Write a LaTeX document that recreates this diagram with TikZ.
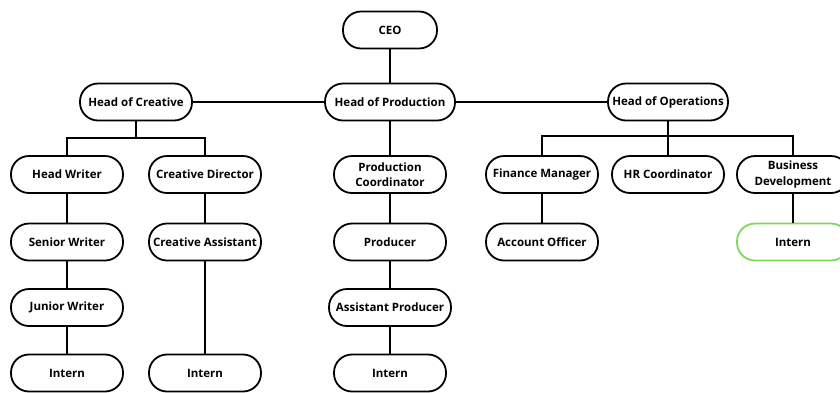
\documentclass[tikz,border=0pt]{standalone}
\usepackage{fontspec}
\setmainfont{Open Sans}
\usepackage{tikz}
\definecolor{G}{RGB}{126, 217, 87}

\begin{document}
\begin{tikzpicture}[x=1pt, y=-1pt,
  box/.style={draw=black, line width=1.8pt, rounded corners=18pt, minimum width=112pt,
    minimum height=37pt, align=center, inner sep=2pt,
    font=\fontsize{11.5}{15.5}\selectfont\bfseries},
  link/.style={black, line width=1.8pt}]
  \useasboundingbox (0,0) rectangle (840,392);
  % top levels
  \node[box, minimum width=94pt] (ceo) at (390,30) {CEO};
  \node[box] (hcre) at (136,102) {Head of Creative};
  \node[box, minimum width=130pt] (hpro) at (390,102) {Head of Production};
  \node[box, minimum width=120pt] (hops) at (668,102) {Head of Operations};
  % creative
  \node[box] (hw) at (67,174.5) {Head Writer};
  \node[box] (sw) at (67,242) {Senior Writer};
  \node[box] (jw) at (67,307.5) {Junior Writer};
  \node[box] (int1) at (67,373) {Intern};
  \node[box] (cd) at (205,174.5) {Creative Director};
  \node[box] (ca) at (205,242) {Creative Assistant};
  \node[box] (int2) at (205,373) {Intern};
  % production
  \node[box] (pc) at (390,174.5) {Production\\Coordinator};
  \node[box] (prod) at (390,242) {Producer};
  \node[box, minimum width=122pt] (ap) at (390,307.5) {Assistant Producer};
  \node[box] (int3) at (390,373) {Intern};
  % operations
  \node[box] (fm) at (542,174.5) {Finance Manager};
  \node[box] (ao) at (542,242) {Account Officer};
  \node[box] (hr) at (668,174.5) {HR Coordinator};
  \node[box] (bd) at (793,174.5) {Business\\Development};
  \node[box, draw=G] (int4) at (793,242) {Intern};
  \coordinate (cjoin) at (136,138);
  \coordinate (ojoin) at (668,136);
  % links
  \draw[link] (ceo) -- (hpro);
  \draw[link] (hcre) -- (hpro);
  \draw[link] (hpro) -- (hops);
  \draw[link] (hcre) -- (cjoin);
  \draw[link] (hw.north) |- (cjoin) -| (cd.north);
  \draw[link] (hops) -- (hr);
  \draw[link] (fm.north) |- (ojoin) -| (bd.north);
  \draw[link] (hw) -- (sw);
  \draw[link] (sw) -- (jw);
  \draw[link] (jw) -- (int1);
  \draw[link] (cd) -- (ca);
  \draw[link] (ca) -- (int2);
  \draw[link] (hpro) -- (pc);
  \draw[link] (pc) -- (prod);
  \draw[link] (prod) -- (ap);
  \draw[link] (ap) -- (int3);
  \draw[link] (fm) -- (ao);
  \draw[link] (bd) -- (int4);
\end{tikzpicture}
\end{document}
